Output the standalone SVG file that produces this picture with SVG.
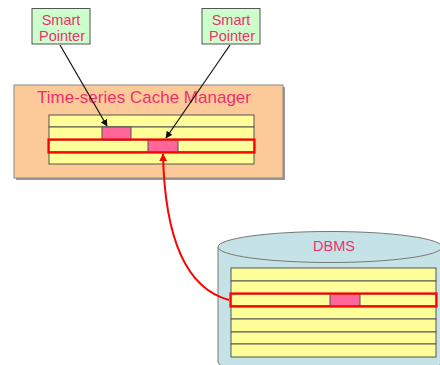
<svg xmlns="http://www.w3.org/2000/svg" width="440" height="365" viewBox="0 0 440 365">
  <style>
    .lbl { font-family: "Liberation Sans", Arial, sans-serif; fill: #f0306e; }
    .ptr { fill: #ccffcc; stroke: #555; stroke-width: 1; }
    .row { fill: #ffff99; stroke: #555; stroke-width: 1; }
    .cell { fill: #ff6699; stroke: #555; stroke-width: 1; }
    .hl { fill: none; stroke: #ff0000; stroke-width: 2.2; }
    .conn { fill: none; stroke: #111; stroke-width: 1.2; }
    .link { fill: none; stroke: #ff0000; stroke-width: 2; }
  </style>
  <defs>
    <marker id="ah" viewBox="0 0 10 10" refX="9" refY="5" markerWidth="7" markerHeight="7" orient="auto" markerUnits="userSpaceOnUse">
      <path d="M0,0 L10,5 L0,10 z" fill="#111"/>
    </marker>
    <marker id="ahr" viewBox="0 0 10 10" refX="9" refY="5" markerWidth="8" markerHeight="8" orient="auto" markerUnits="userSpaceOnUse">
      <path d="M0,0 L10,5 L0,10 z" fill="#ff0000"/>
    </marker>
  </defs>
  <rect width="440" height="365" fill="#ffffff"/>

  <!-- cache manager -->
  <g id="cache-manager">
    <rect x="16" y="87" width="269" height="93" fill="#999"/>
    <rect x="14" y="85" width="269" height="93" fill="#fcca98" stroke="#888" stroke-width="1"/>
    <text class="lbl" x="144" y="102.5" font-size="17" text-anchor="middle" textLength="214" lengthAdjust="spacingAndGlyphs">Time-series Cache Manager</text>
    <rect class="row" x="49" y="115" width="205" height="12"/>
    <rect class="row" x="49" y="127" width="205" height="13"/>
    <rect class="row" x="49" y="140" width="205" height="12"/>
    <rect class="row" x="49" y="152" width="205" height="12"/>
    <rect class="cell" x="102" y="127" width="29" height="13"/>
    <rect class="cell" x="148" y="140" width="30" height="12"/>
    <rect class="hl" x="48.5" y="139.5" width="206" height="13"/>
  </g>

  <!-- DBMS -->
  <g id="dbms">
    <path d="M218,247 L218,362 A112,15 0 0 0 442,362 L442,247" fill="#c5e3e6" stroke="#777" stroke-width="1"/>
    <ellipse cx="330" cy="247" rx="112" ry="15.5" fill="#c5e3e6" stroke="#777" stroke-width="1"/>
    <text class="lbl" x="334" y="251" font-size="14.5" text-anchor="middle">DBMS</text>
    <rect class="row" x="231" y="268" width="205" height="13"/>
    <rect class="row" x="231" y="281" width="205" height="13"/>
    <rect class="row" x="231" y="294" width="205" height="12"/>
    <rect class="row" x="231" y="306" width="205" height="13"/>
    <rect class="row" x="231" y="319" width="205" height="13"/>
    <rect class="row" x="231" y="332" width="205" height="12"/>
    <rect class="row" x="231" y="344" width="205" height="13"/>
    <rect class="cell" x="330" y="294" width="30" height="12"/>
    <rect class="hl" x="230.5" y="293.5" width="206" height="13"/>
  </g>

  <!-- smart pointers -->
  <g id="smart-pointer-1">
    <rect class="ptr" x="32" y="8.5" width="58" height="35.5"/>
    <text class="lbl" x="61" y="25" font-size="14.5" text-anchor="middle">Smart</text>
    <text class="lbl" x="62" y="40.5" font-size="14.5" text-anchor="middle">Pointer</text>
  </g>
  <g id="smart-pointer-2">
    <rect class="ptr" x="202" y="8.5" width="58" height="35.5"/>
    <text class="lbl" x="231" y="25" font-size="14.5" text-anchor="middle">Smart</text>
    <text class="lbl" x="232" y="40.5" font-size="14.5" text-anchor="middle">Pointer</text>
  </g>

  <!-- connectors -->
  <g id="connectors">
    <line class="conn" x1="60" y1="45" x2="107" y2="126" marker-end="url(#ah)"/>
    <line class="conn" x1="230" y1="45" x2="166" y2="138" marker-end="url(#ah)"/>
    <path class="link" d="M229,300 C192,290 165,250 163,154" marker-end="url(#ahr)"/>
  </g>
</svg>
